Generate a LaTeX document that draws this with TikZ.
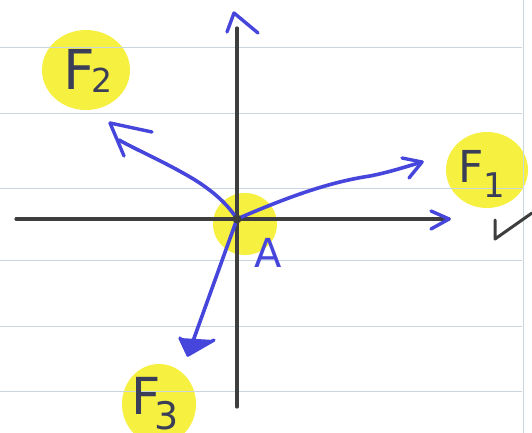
\documentclass[tikz,border=0pt]{standalone}
\usepackage{fontspec}
\setmainfont{DejaVu Sans}
\definecolor{pen}{RGB}{70,70,220}
\definecolor{ink}{RGB}{62,62,62}
\definecolor{hl}{RGB}{246,240,64}
\definecolor{rule}{RGB}{202,214,222}
\definecolor{lbl}{RGB}{58,62,88}
\begin{document}
\begin{tikzpicture}[x=1pt,y=-1pt,
  ruled/.style={draw=rule,line width=1pt},
  axis/.style={draw=ink,line width=3.2pt,line cap=round},
  force/.style={draw=pen,line width=3.6pt,line cap=round,line join=round},
  chev/.style={draw=pen,line width=3.4pt,line cap=round,line join=round},
  highlight/.style={fill=hl},
  flabel/.style={anchor=base west,inner sep=0pt,text=lbl}]
\useasboundingbox (0,0) rectangle (532,433);
\fill[white] (0,0) rectangle (532,433);
% highlights
\fill[highlight] (86,70) ellipse [x radius=44, y radius=40];
\fill[highlight] (487,170) ellipse [x radius=41, y radius=38];
\fill[highlight] (159,404) ellipse [x radius=37, y radius=40];
\fill[highlight] (245,224) ellipse [x radius=32, y radius=31];
% ruled paper
\foreach \yy in {48,114,188,260,326,391} \draw[ruled] (0,\yy) -- (522,\yy);
\draw[ruled] (523,0) -- (523,433);
% coordinates
\coordinate (A) at (237,219);
\coordinate (xl) at (16,219);
\coordinate (xr) at (449,219);
\coordinate (yb) at (237,407);
\coordinate (yt) at (237,28);
\coordinate (t1) at (422,162);
\coordinate (e2) at (119,140);
\coordinate (t2) at (110,123);
\coordinate (t3) at (188,355);
% axes
\draw[axis] (xl) -- (xr);
\draw[axis] (yb) -- (yt);
\draw[chev] (431,211) -- (xr) -- (431,229);
\draw[chev] (227,32) -- (234,13) -- (258,33);
% forces
\draw[force] (A) .. controls (290,196) and (330,182) .. (370,176) .. controls (390,172) and (405,167) .. (t1);
\draw[chev] (402,158) -- (t1) -- (409,178);
\draw[force] (A) .. controls (225,200) and (205,185) .. (183,173) .. controls (160,160) and (135,149) .. (e2);
\draw[chev] (152,132) -- (t2) -- (124,156);
\draw[force] (A) -- (t3);
\draw[chev,fill=pen] (180,338) -- (t3) -- (214,340);
\fill[ink] (A) circle (4.5);
% labels
\node[flabel] (F2) at (63,90) {\fontsize{55}{55}\selectfont F\kern-3pt\raisebox{-2pt}{\fontsize{33}{33}\selectfont 2}};
\node[flabel] (F1) at (458,182) {\fontsize{44}{44}\selectfont F\kern0pt\raisebox{-15pt}{\fontsize{34}{34}\selectfont 1}};
\node[flabel] (F3) at (131,414) {\fontsize{51}{51}\selectfont F\kern-6pt\raisebox{-15pt}{\fontsize{38}{38}\selectfont 3}};
\node[flabel,text=pen] (Al) at (254,267) {\fontsize{40}{40}\selectfont A};
% check mark
\draw[draw=ink,line width=3pt,line cap=round,line join=round] (495,220) -- (495,239) -- (532,213);
\end{tikzpicture}
\end{document}
